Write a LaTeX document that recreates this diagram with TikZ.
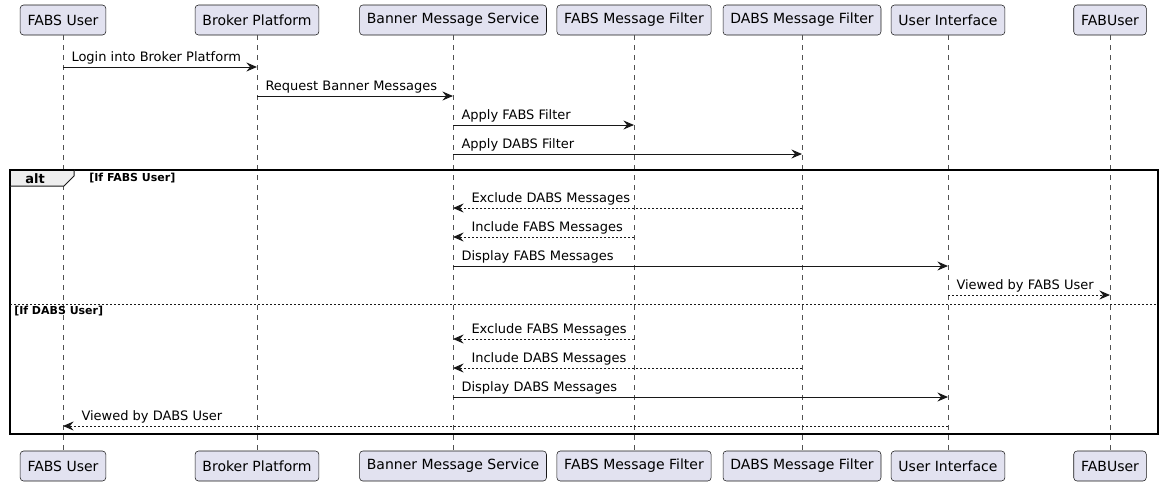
\documentclass[tikz,border=0pt]{standalone}
\usepackage{fontspec}
\setmainfont{DejaVu Sans}
\usetikzlibrary{arrows.meta, positioning}
\definecolor{partfill}{HTML}{E2E2F0}
\definecolor{partline}{HTML}{181818}
\definecolor{tabfill}{HTML}{EEEEEE}

\tikzset{
  participant/.style={draw=partline, fill=partfill, rounded corners=2.5pt, minimum height=22.5pt,
    inner xsep=5.5pt, line width=0.4pt, font=\fontsize{10.5}{12}\selectfont},
  lifeline/.style={draw=partline!75, line width=0.4pt, dash pattern=on 3.75pt off 3.75pt},
  msg/.style={draw=partline, line width=0.75pt, -{Stealth[length=8pt,width=6.8pt,inset=2.8pt]}},
  reply/.style={msg, dash pattern=on 1.5pt off 1.5pt},
  fwdlabel/.style={at start, anchor=base west, inner sep=0pt, xshift=6pt, yshift=3.8pt,
    font=\fontsize{9.75}{11}\selectfont},
  backlabel/.style={at end, anchor=base west, inner sep=0pt, xshift=13.5pt, yshift=3.8pt,
    font=\fontsize{9.75}{11}\selectfont},
  guard/.style={anchor=base west, inner sep=0pt, font=\bfseries\fontsize{8.25}{10}\selectfont}
}

\begin{document}
\begin{tikzpicture}[x=0.75pt, y=-0.75pt]
  \useasboundingbox (0,0) rectangle (1164,486);

  \node[participant] (fabsuser)   at (63,20)   {FABS User};
  \node[participant] (broker)     at (257,20)  {Broker Platform};
  \node[participant] (banner)     at (453,20)  {Banner Message Service};
  \node[participant] (fabsfilter) at (634,20)  {FABS Message Filter};
  \node[participant] (dabsfilter) at (802,20)  {DABS Message Filter};
  \node[participant] (ui)         at (948,20)  {User Interface};
  \node[participant] (fabuser)    at (1110,20) {FABUser};

  \node[participant] (fabsuserB)   at (63,466)   {FABS User};
  \node[participant] (brokerB)     at (257,466)  {Broker Platform};
  \node[participant] (bannerB)     at (453,466)  {Banner Message Service};
  \node[participant] (fabsfilterB) at (634,466)  {FABS Message Filter};
  \node[participant] (dabsfilterB) at (802,466)  {DABS Message Filter};
  \node[participant] (uiB)         at (948,466)  {User Interface};
  \node[participant] (fabuserB)    at (1110,466) {FABUser};

  \foreach \p in {fabsuser, broker, banner, fabsfilter, dabsfilter, ui, fabuser}
    \draw[lifeline] (\p.south) -- (\p B.north);

  \foreach \r/\y in {1/67, 2/96, 3/125, 4/154, 5/208, 6/237, 7/266, 8/295, 9/339, 10/368, 11/397, 12/426}
    \coordinate (r\r) at (0,\y);

  \draw[msg] (fabsuser |- r1) -- (broker |- r1) node[fwdlabel] {Login into Broker Platform};
  \draw[msg] (broker |- r2) -- (banner |- r2) node[fwdlabel] {Request Banner Messages};
  \draw[msg] (banner |- r3) -- (fabsfilter |- r3) node[fwdlabel] {Apply FABS Filter};
  \draw[msg] (banner |- r4) -- (dabsfilter |- r4) node[fwdlabel] {Apply DABS Filter};

  \draw[line width=1.1pt] (10,170) rectangle (1158,434);
  \filldraw[fill=tabfill, draw=partline, line width=0.75pt] (10,170) -- (74,170) -- (74,176) -- (64,186) -- (10,186) -- cycle;
  \draw[line width=1.1pt] (10,186) -- (10,170) -- (74,170);
  \node[anchor=base, inner sep=0pt, font=\bfseries\fontsize{9.75}{11}\selectfont] (alt) at (35,183) {alt};
  \node[guard] (guardfabs) at (89,181) {[If FABS User]};

  \draw[reply] (dabsfilter |- r5) -- (banner |- r5) node[backlabel] {Exclude DABS Messages};
  \draw[reply] (fabsfilter |- r6) -- (banner |- r6) node[backlabel] {Include FABS Messages};
  \draw[msg] (banner |- r7) -- (ui |- r7) node[fwdlabel] {Display FABS Messages};
  \draw[reply] (ui |- r8) -- (fabuser |- r8) node[fwdlabel] {Viewed by FABS User};

  \draw[draw=partline, line width=0.75pt, dash pattern=on 1.5pt off 1.5pt] (10,304) -- (1158,304);
  \node[guard] (guarddabs) at (14,314) {[If DABS User]};

  \draw[reply] (fabsfilter |- r9) -- (banner |- r9) node[backlabel] {Exclude FABS Messages};
  \draw[reply] (dabsfilter |- r10) -- (banner |- r10) node[backlabel] {Include DABS Messages};
  \draw[msg] (banner |- r11) -- (ui |- r11) node[fwdlabel] {Display DABS Messages};
  \draw[reply] (ui |- r12) -- (fabsuser |- r12) node[backlabel] {Viewed by DABS User};
\end{tikzpicture}
\end{document}
